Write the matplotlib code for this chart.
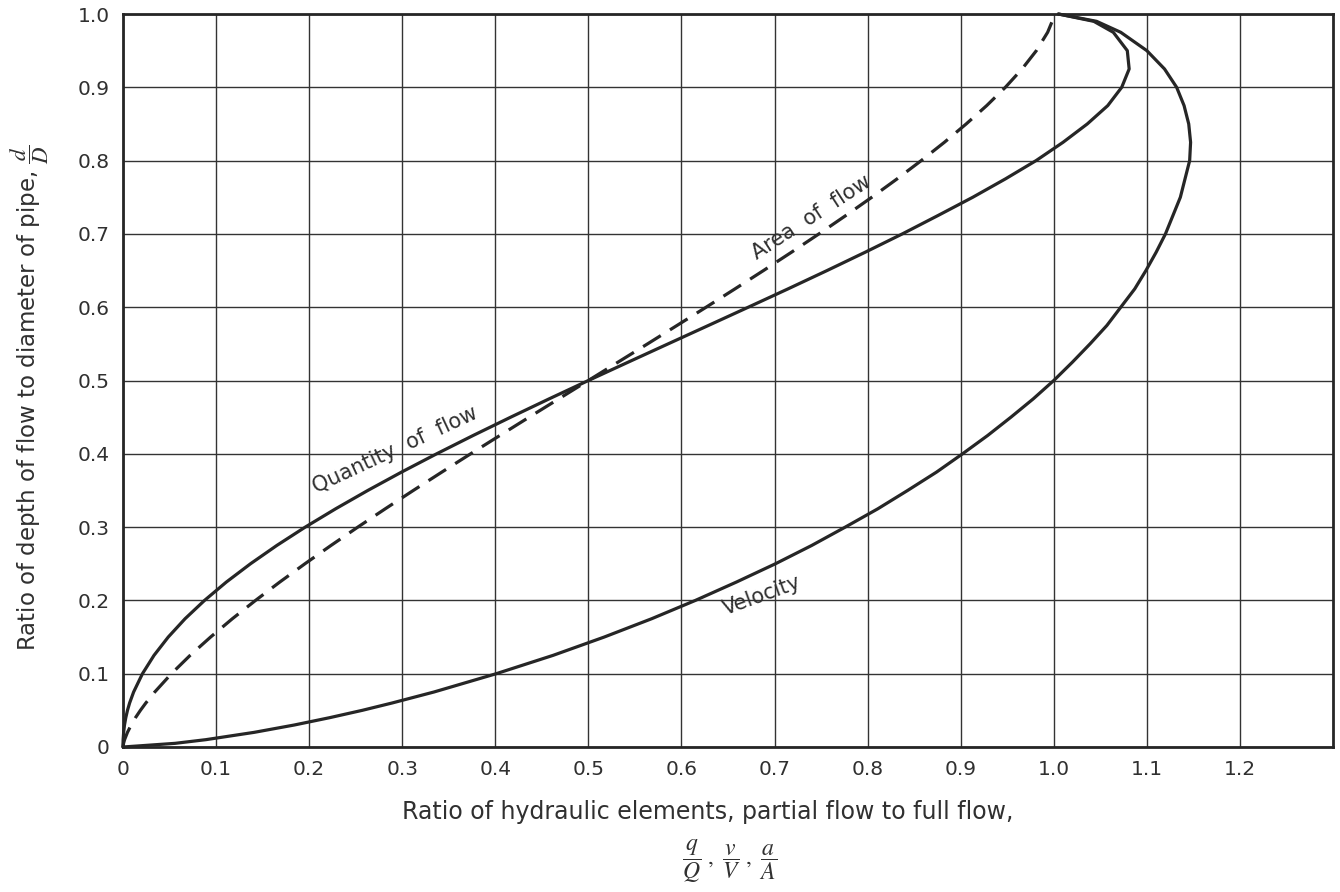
import matplotlib
matplotlib.use("Agg")
import matplotlib.pyplot as plt

plt.rcParams['font.family'] = ['DejaVu Sans']
plt.rcParams['mathtext.fontset'] = 'stix'

# ---- data ----
depth_ratio = [0, 0.005, 0.01, 0.02, 0.03, 0.04, 0.05, 0.06, 0.075, 0.1, 0.125, 0.15,
               0.175, 0.2, 0.225, 0.25, 0.275, 0.3, 0.325, 0.35, 0.375, 0.4, 0.425,
               0.45, 0.475, 0.5, 0.525, 0.55, 0.575, 0.6, 0.625, 0.65, 0.675, 0.7,
               0.725, 0.75, 0.775, 0.8, 0.825, 0.85, 0.875, 0.9, 0.925, 0.95, 0.975,
               0.99, 1.0]

area_ratio = [0, 0.0006, 0.0017, 0.0048, 0.0088, 0.0134, 0.0187, 0.0245, 0.0341, 0.0520,
              0.0721, 0.0941, 0.1175, 0.1424, 0.1684, 0.1955, 0.2235, 0.2523, 0.2818,
              0.3119, 0.3425, 0.3735, 0.4049, 0.4364, 0.4682, 0.5000, 0.5318, 0.5636,
              0.5951, 0.6265, 0.6575, 0.6881, 0.7182, 0.7477, 0.7765, 0.8045, 0.8316,
              0.8576, 0.8825, 0.9059, 0.9279, 0.9480, 0.9659, 0.9813, 0.9934, 0.9983,
              1.0000]

velocity_ratio = [0, 0.056, 0.089, 0.141, 0.184, 0.222, 0.257, 0.289, 0.334, 0.401,
                  0.462, 0.517, 0.568, 0.615, 0.659, 0.701, 0.740, 0.776, 0.811,
                  0.843, 0.874, 0.902, 0.929, 0.954, 0.978, 1.000, 1.020, 1.039,
                  1.057, 1.072, 1.087, 1.099, 1.110, 1.120, 1.128, 1.136, 1.141,
                  1.146, 1.147, 1.145, 1.140, 1.132, 1.119, 1.100, 1.072, 1.046, 1.005]

quantity_ratio = [0, 0.00003, 0.00015, 0.0007, 0.0016, 0.0030, 0.0048, 0.0071, 0.0114,
                  0.0209, 0.0333, 0.0486, 0.0667, 0.0876, 0.1110, 0.1370, 0.1653,
                  0.1958, 0.2285, 0.2630, 0.2992, 0.3370, 0.3762, 0.4166, 0.4579,
                  0.5000, 0.5427, 0.5857, 0.6288, 0.6718, 0.7145, 0.7564, 0.7974,
                  0.8373, 0.8755, 0.9130, 0.948, 0.981, 1.010, 1.036, 1.058, 1.073,
                  1.081, 1.079, 1.064, 1.043, 1.005]

x_ticks = [0, 0.1, 0.2, 0.3, 0.4, 0.5, 0.6, 0.7, 0.8, 0.9, 1.0, 1.1, 1.2]
x_tick_labels = ["0", "0.1", "0.2", "0.3", "0.4", "0.5", "0.6", "0.7", "0.8",
                 "0.9", "1.0", "1.1", "1.2"]
y_ticks = [0, 0.1, 0.2, 0.3, 0.4, 0.5, 0.6, 0.7, 0.8, 0.9, 1.0]
y_tick_labels = ["0", "0.1", "0.2", "0.3", "0.4", "0.5", "0.6", "0.7", "0.8",
                 "0.9", "1.0"]

# ---- figure ----
ink = '#262626'
txt = '#303030'
fig = plt.figure(figsize=(13.4, 8.92), dpi=100)
ax = fig.add_axes([123/1340, 145/892, 1210/1340, 733/892])

ax.plot(quantity_ratio, depth_ratio, color=ink, lw=2.3, solid_capstyle='round',
        solid_joinstyle='round', clip_on=False, zorder=3)
ax.plot(velocity_ratio, depth_ratio, color=ink, lw=2.3, solid_capstyle='round',
        solid_joinstyle='round', clip_on=False, zorder=3)
ax.plot(area_ratio, depth_ratio, color=ink, lw=2.3, linestyle=(0, (6.5, 3.4)),
        clip_on=False, zorder=3)

ax.set_xlim(0, 1.3)
ax.set_ylim(0, 1.0)
ax.set_xticks(x_ticks)
ax.set_xticklabels(x_tick_labels)
ax.set_yticks(y_ticks)
ax.set_yticklabels(y_tick_labels)
ax.tick_params(length=0, pad=9.5, labelsize=14.5, labelcolor=txt)
ax.grid(True, color='#333333', lw=1.0)
ax.set_axisbelow(True)
for s in ax.spines.values():
    s.set_linewidth(2.0)
    s.set_color(ink)

lab_kw = dict(fontsize=15, color=txt, ha='center', va='center',
              rotation_mode='anchor')
ax.text(0.292, 0.405, "Quantity  of  flow", rotation=25, **lab_kw)
ax.text(0.740, 0.722, "Area  of  flow", rotation=33, **lab_kw)
ax.text(0.686, 0.207, "Velocity", rotation=20, **lab_kw)

fig.text(30/1340, 1 - 398/892,
         r"Ratio of depth of flow to diameter of pipe, $\dfrac{d}{D}$",
         rotation=90, ha='center', va='center', fontsize=16.5, color=txt)
fig.text(708/1340, 1 - 812/892,
         "Ratio of hydraulic elements, partial flow to full flow,",
         ha='center', va='center', fontsize=17, color=txt)
fig.text(730/1340, 1 - 861/892,
         r"$\dfrac{q}{Q}\ ,\ \dfrac{v}{V}\ ,\ \dfrac{a}{A}$",
         ha='center', va='center', fontsize=17, color=txt)

fig.savefig("out.png", dpi=100)
